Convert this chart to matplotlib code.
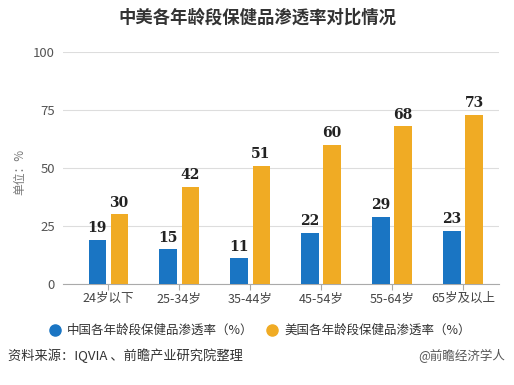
import matplotlib
matplotlib.use("Agg")
import matplotlib.pyplot as plt
import numpy as np
from matplotlib.lines import Line2D

plt.rcParams['font.family'] = ['Noto Sans CJK SC', 'DejaVu Sans']

categories = ["24岁以下", "25-34岁", "35-44岁", "45-54岁", "55-64岁", "65岁及以上"]
china = [19, 15, 11, 22, 29, 23]
usa = [30, 42, 51, 60, 68, 73]
series_names = ["中国各年龄段保健品渗透率（%）", "美国各年龄段保健品渗透率（%）"]
yticks = [0, 25, 50, 75, 100]

blue = "#1a75c3"
orange = "#f0ab24"

W, H = 514, 385
fig = plt.figure(figsize=(W / 100, H / 100), dpi=100)
ax = fig.add_axes([63.3 / W, 1 - 284 / H, (498.5 - 63.3) / W, (284 - 52) / H])

x = np.arange(len(categories))
bw = 0.24
off = 0.155
b1 = ax.bar(x - off, china, bw, color=blue, zorder=3)
b2 = ax.bar(x + off, usa, bw, color=orange, zorder=3)

for rects, vals in ((b1, china), (b2, usa)):
    for r, v in zip(rects, vals):
        ax.text(r.get_x() + r.get_width() / 2, v + 2.0, str(v), ha='center', va='bottom',
                fontsize=10, fontweight='bold', color='#222222', family='DejaVu Serif')

ax.set_xlim(-0.63, 5.5)
ax.set_ylim(0, 100)
ax.set_yticks(yticks)
ax.set_yticklabels([str(t) for t in yticks])
ax.set_xticks(x)
ax.set_xticklabels(categories)
ax.grid(axis='y', color='#dddddd', linewidth=0.8, zorder=0)
for s in ['top', 'right', 'left']:
    ax.spines[s].set_visible(False)
ax.spines['bottom'].set_color('#aaaaaa')
ax.tick_params(axis='y', length=0, labelsize=9.5, labelcolor='#555555', pad=6)
ax.tick_params(axis='x', length=4, color='#aaaaaa', labelsize=9, labelcolor='#444444', pad=2)

fig.text(20 / W, 1 - 172 / H, "单位：%", rotation=90, ha='center', va='center',
         fontsize=8.5, color='#777777')

fig.text(257 / W, 1 - 18 / H, "中美各年龄段保健品渗透率对比情况", ha='center', va='center',
         fontsize=12.5, fontweight='bold', color='#333333')

ly = 1 - 330 / H
fig.add_artist(Line2D([55 / W], [ly], marker='o', markersize=8, color=blue, linestyle='none'))
fig.text(67 / W, ly, series_names[0], ha='left', va='center', fontsize=9, color='#333333')
fig.add_artist(Line2D([272 / W], [ly], marker='o', markersize=8, color=orange, linestyle='none'))
fig.text(284 / W, ly, series_names[1], ha='left', va='center', fontsize=9, color='#333333')

fig.text(8 / W, 1 - 356 / H, "资料来源：IQVIA 、前瞻产业研究院整理", ha='left', va='center',
         fontsize=9.5, color='#333333')
fig.text(505 / W, 1 - 356 / H, "@前瞻经济学人", ha='right', va='center',
         fontsize=9, color='#555555')

fig.savefig("out.png", dpi=100)
